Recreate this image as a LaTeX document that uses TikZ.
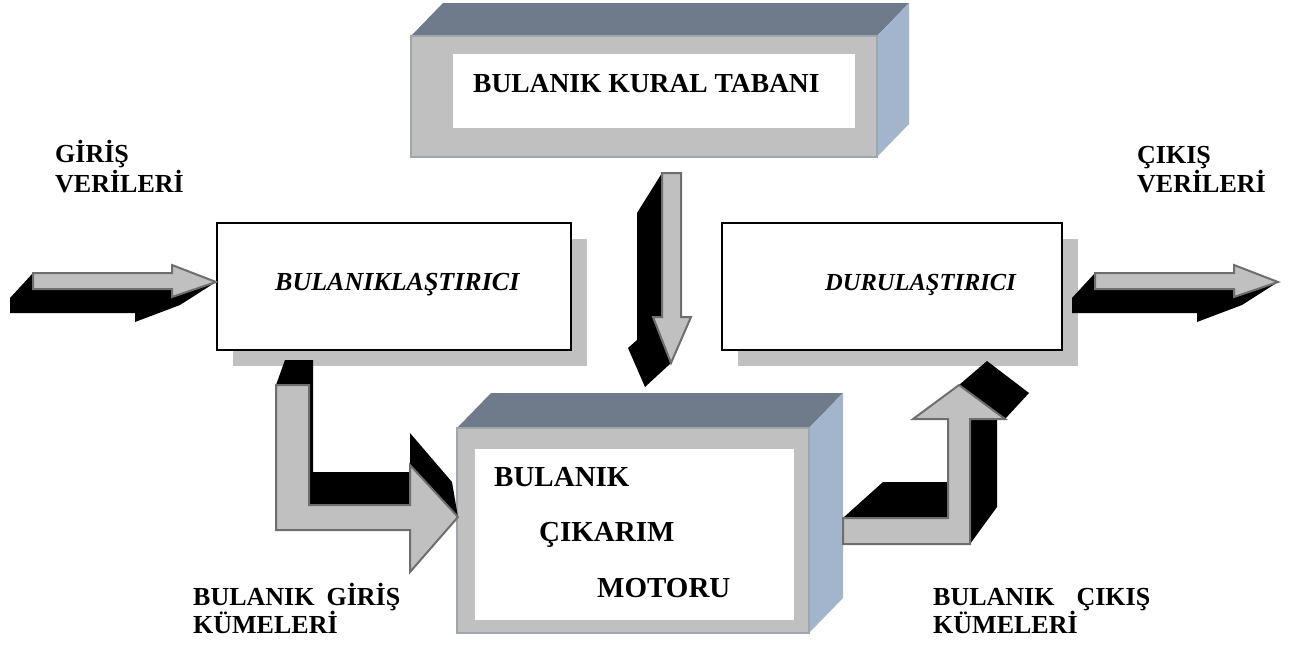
\documentclass[tikz,border=0pt]{standalone}
\usepackage{fontspec}
\setmainfont{Liberation Serif}
\definecolor{facegray}{HTML}{C0C0C0}
\definecolor{topslate}{HTML}{6F7B8B}
\definecolor{sideblue}{HTML}{A3B5CD}
\definecolor{edgegray}{HTML}{A0A6AD}
\definecolor{arrowedge}{HTML}{6E6E6E}
\begin{document}
\begin{tikzpicture}[x=1pt,y=-1pt,
  front3d/.style={fill=facegray,draw=edgegray,line width=1.5pt,inner sep=0pt},
  inner3d/.style={fill=white,draw=none,inner sep=0pt},
  topface/.style={fill=topslate},
  sideface/.style={fill=sideblue},
  flatbox/.style={fill=white,draw=black,line width=1.8pt,inner sep=0pt},
  boxshadow/.style={fill=facegray},
  blockarrow/.style={fill=facegray,draw=arrowedge,line width=2pt,line join=miter},
  arrowshade/.style={fill=black},
  lbl/.style={anchor=base west,inner sep=0pt,font=\bfseries\fontsize{26}{30}\selectfont},
  biglbl/.style={anchor=base west,inner sep=0pt,font=\bfseries\fontsize{29}{34}\selectfont},
  itlbl/.style={anchor=base west,inner sep=0pt,font=\bfseries\itshape\fontsize{26}{30}\selectfont}]
\useasboundingbox (0,0) rectangle (1290,648);

% ---- rule base: 3D block at the top
\fill[topface] (411,36) -- (443,3) -- (909,3) -- (877,36) -- cycle;
\fill[sideface] (877,36) -- (909,3) -- (909,124) -- (877,157) -- cycle;
\node[front3d,minimum width=466pt,minimum height=121pt] (rulesF) at (644,96.5) {};
\node[inner3d,minimum width=402pt,minimum height=74pt] (rulesW) at (654,91) {};
\node[biglbl,font=\bfseries\fontsize{27.5}{32}\selectfont] (rules) at (473,92) {BULANIK KURAL TABANI};

% ---- inference engine: 3D block at the bottom
\fill[topface] (457,428) -- (491,393) -- (843,393) -- (809,428) -- cycle;
\fill[sideface] (809,428) -- (843,393) -- (843,598) -- (809,633) -- cycle;
\node[front3d,minimum width=352pt,minimum height=205pt] (engF) at (633,530.5) {};
\node[inner3d,minimum width=319pt,minimum height=171pt] (engW) at (634.5,534.5) {};
\node[biglbl] (eng1) at (494,486) {BULANIK};
\node[biglbl] (eng2) at (539,541) {ÇIKARIM};
\node[biglbl] (eng3) at (597,597) {MOTORU};

% ---- fuzzifier and defuzzifier with drop shadows
\fill[boxshadow] (233,239) rectangle (587,366);
\fill[boxshadow] (738,239) rectangle (1078,366);
\node[flatbox,minimum width=354pt,minimum height=127pt] (fuzz) at (394,286.5) {};
\node[flatbox,minimum width=340pt,minimum height=127pt] (defuzz) at (892,286.5) {};
\node[itlbl] (fuzzT) at (275,290) {BULANIKLAŞTIRICI};
\node[itlbl,font=\bfseries\itshape\fontsize{24.5}{29}\selectfont] (defuzzT) at (825,290) {DURULAŞTIRICI};

% ---- input arrow
\fill[arrowshade] (33,273) -- (10,298) -- (10,313) -- (135,313) -- (135,322) -- (180,305) -- (216,282) -- cycle;
\draw[blockarrow] (33,273) -- (172,273) -- (172,265) -- (216,282) -- (172,297) -- (172,289) -- (33,289) -- cycle;

% ---- output arrow
\fill[arrowshade] (1095,273) -- (1072,298) -- (1072,313) -- (1197,313) -- (1197,322) -- (1242,305) -- (1278,282) -- cycle;
\draw[blockarrow] (1095,273) -- (1234,273) -- (1234,265) -- (1278,282) -- (1234,297) -- (1234,289) -- (1095,289) -- cycle;

% ---- rule base to inference engine
\fill[arrowshade] (662,173) -- (637,213) -- (637,340) -- (628,348) -- (645,387) -- (671,363) -- cycle;
\draw[blockarrow] (662,173) -- (681,173) -- (681,317) -- (691,317) -- (671,363) -- (653,317) -- (662,317) -- cycle;

% ---- fuzzy input sets: fuzzifier to inference engine
\fill[arrowshade] (276,385) -- (285,360) -- (313,360) -- (313,472) -- (410,472) -- (410,433) -- (452,482) -- (458,517) -- (309,517) -- (309,385) -- cycle;
\draw[blockarrow] (276,385) -- (309,385) -- (309,505) -- (410,505) -- (410,465) -- (458,517) -- (410,572) -- (410,530) -- (276,530) -- cycle;

% ---- fuzzy output sets: inference engine to defuzzifier
\fill[arrowshade] (843,518) -- (883,482) -- (948,482) -- (948,419) -- (959,385) -- (987,361) -- (1029,393) -- (1005,419) -- (997,419) -- (997,507) -- (970,544) -- cycle;
\draw[blockarrow] (843,518) -- (948,518) -- (948,419) -- (913,419) -- (959,385) -- (1005,419) -- (970,419) -- (970,544) -- (843,544) -- cycle;

% ---- labels
\node[lbl] (in1) at (55,162) {GİRİŞ};
\node[lbl] (in2) at (55,192) {VERİLERİ};
\node[lbl] (out1) at (1137,163) {ÇIKIŞ};
\node[lbl] (out2) at (1137,192) {VERİLERİ};
\node[lbl] (fin1) at (193,605) {BULANIK\hspace{12pt}GİRİŞ};
\node[lbl] (fin2) at (193,633) {KÜMELERİ};
\node[lbl] (fout1) at (933,605) {BULANIK\hspace{22pt}ÇIKIŞ};
\node[lbl] (fout2) at (933,633) {KÜMELERİ};
\end{tikzpicture}
\end{document}
